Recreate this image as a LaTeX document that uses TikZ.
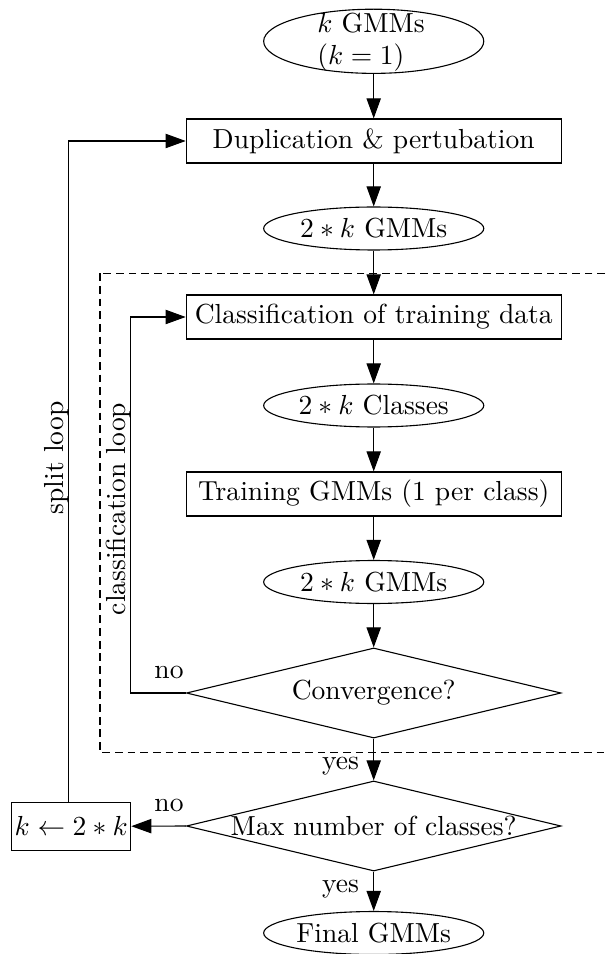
\documentclass[tikz,border=0pt]{standalone}
\usetikzlibrary{shapes.geometric,arrows.meta}
\begin{document}
\begin{tikzpicture}[x=0.363pt,y=-0.363pt,
  font=\fontsize{10}{11.5}\selectfont,
  line width=0.4pt,
  >={Triangle[length=7.3pt,width=5.2pt]},
  ovalbox/.style={draw,ellipse,inner sep=0pt,minimum width=79.9pt,minimum height=15.6pt},
  rectbox/.style={draw,rectangle,inner sep=0pt,minimum width=136.1pt,minimum height=16pt},
  decbox/.style={draw,diamond,inner sep=0pt,minimum width=136pt,minimum height=32.7pt},
  lbl/.style={inner sep=0pt}]
\useasboundingbox (0,0) rectangle (605,954);
\node[ovalbox,minimum height=23.3pt] (e1) at (373.7,41.3) {};
\node[lbl,align=left] (e1t) at (371,42) {$k$ GMMs\\$(k=1)$};
\node[rectbox] (b1) at (373.7,141) {Duplication \& pertubation};
\node[ovalbox] (e2) at (373.7,228.5) {\makebox[0pt]{$2*k$ GMMs}};
\draw[dash pattern=on 2.8pt off 1.8pt] (100,273.3) rectangle (640,752.5);
\node[rectbox] (b2) at (373.7,317) {Classification of training data};
\node[ovalbox] (e3) at (373.7,405.5) {\makebox[0pt]{$2*k$ Classes}};
\node[rectbox] (b3) at (373.7,494) {Training GMMs (1 per class)};
\node[ovalbox] (e4) at (373.7,582) {\makebox[0pt]{$2*k$ GMMs}};
\node[decbox] (d1) at (373.7,693) {\makebox[0pt]{Convergence?}};
\node[decbox] (d2) at (373.7,826) {\makebox[0pt]{Max number of classes?}};
\node[draw,rectangle,inner sep=0pt,minimum width=43.2pt,minimum height=17.4pt] (kb) at (71.2,826.2) {$k\leftarrow 2*k$};
\node[ovalbox] (e5) at (373.7,933) {\makebox[0pt]{Final GMMs}};
\coordinate (c1) at (130.7,693);
\coordinate (c2) at (130.7,317);
\coordinate (c3) at (68.4,141);
\draw[->] (e1) -- (b1);
\draw[->] (b1) -- (e2);
\draw[->] (e2) -- (b2);
\draw[->] (b2) -- (e3);
\draw[->] (e3) -- (b3);
\draw[->] (b3) -- (e4);
\draw[->] (e4) -- (d1);
\draw[->] (d1) -- (d2);
\draw[->] (d2) -- (e5);
\draw[->] (d2.west) -- (kb.east);
\draw[->] (d1.west) -- (c1) -- (c2) -- (b2.west |- c2);
\draw[->] (kb.north -| c3) -- (c3) -- (b1.west);
\node[lbl] (no1) at (169,672) {no};
\node[lbl] (no2) at (169,805.5) {no};
\node[lbl] (yes1) at (340.5,766.5) {yes};
\node[lbl] (yes2) at (340.5,889.5) {yes};
\node[lbl,rotate=90] (sl) at (57,458) {split loop};
\node[lbl,rotate=90] (cl) at (118.5,509) {classification loop};
\end{tikzpicture}
\end{document}
